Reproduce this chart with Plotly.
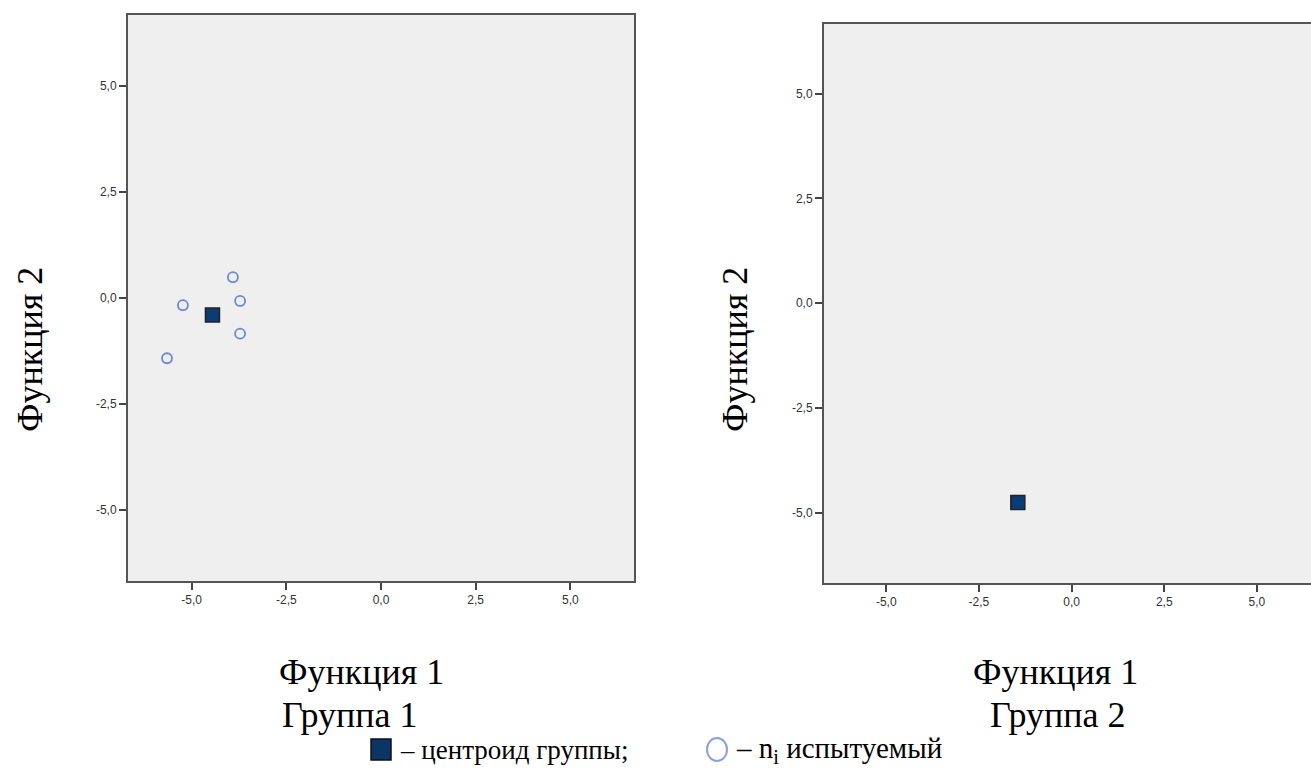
import plotly.graph_objects as go

# ---- data ----
g1_subj_x = [-3.91, -3.72, -5.23, -3.72, -5.65]
g1_subj_y = [0.49, -0.07, -0.17, -0.84, -1.42]
g1_centroid_x = [-4.45]
g1_centroid_y = [-0.40]
g2_centroid_x = [-1.45]
g2_centroid_y = [-4.75]
tick_vals = [-5.0, -2.5, 0.0, 2.5, 5.0]
tick_text = ["-5,0", "-2,5", "0,0", "2,5", "5,0"]

W, H = 1311, 769
def px(x): return x / W
def py(y): return 1 - y / H

navy = "#0b3c74"
circ = "#6f86d6"
bg = "#efefef"
line_col = "#555555"
serif = "Liberation Serif, Times New Roman, serif"

fig = go.Figure()
fig.add_trace(go.Scatter(x=g1_subj_x, y=g1_subj_y, mode="markers", xaxis="x", yaxis="y",
                         marker=dict(symbol="circle-open", size=10, color=circ, line=dict(width=1.8, color=circ)),
                         showlegend=False))
fig.add_trace(go.Scatter(x=g1_centroid_x, y=g1_centroid_y, mode="markers", xaxis="x", yaxis="y",
                         marker=dict(symbol="square", size=14, color=navy, line=dict(width=1.5, color="#222222")),
                         showlegend=False))
fig.add_trace(go.Scatter(x=g2_centroid_x, y=g2_centroid_y, mode="markers", xaxis="x2", yaxis="y2",
                         marker=dict(symbol="square", size=14, color=navy, line=dict(width=1.5, color="#222222")),
                         showlegend=False))

tickfont = dict(family="Liberation Sans Narrow, Liberation Sans, Arial, sans-serif", size=12, color="#333333")
common = dict(tickmode="array", tickvals=tick_vals, ticktext=tick_text, showgrid=False, zeroline=False,
              ticks="outside", ticklen=7, tickwidth=2, tickcolor="#444444", showline=True,
              linecolor=line_col, linewidth=2, tickfont=tickfont)

fig.update_layout(
    width=W, height=H, margin=dict(l=0, r=0, t=0, b=0),
    paper_bgcolor="white", plot_bgcolor=bg,
    xaxis=dict(domain=[px(128), px(634)], range=[-6.68, 6.68], anchor="y", mirror=True, **common),
    yaxis=dict(domain=[py(581), py(15)], range=[-6.67, 6.67], anchor="x", mirror=True, **common),
    xaxis2=dict(domain=[px(824), 1.0], range=[-6.68, 6.46], anchor="y2", mirror=True, **common),
    yaxis2=dict(domain=[py(583), py(23.5)], range=[-6.67, 6.67], anchor="x2", mirror=False, **common),
)

tfont = dict(family=serif, size=36, color="black")
ann = [
    dict(text="Функция 2", x=px(30), y=py(350), textangle=-90, font=tfont),
    dict(text="Функция 2", x=px(735), y=py(350), textangle=-90, font=tfont),
    dict(text="Функция 1", x=px(361), y=py(672), font=tfont),
    dict(text="Группа 1", x=px(350), y=py(715), font=tfont),
    dict(text="Функция 1", x=px(1055), y=py(672), font=tfont),
    dict(text="Группа 2", x=px(1058), y=py(715), font=tfont),
]
for a in ann:
    fig.add_annotation(xref="paper", yref="paper", showarrow=False, xanchor="center", yanchor="middle", **a)

lfont = dict(family=serif, size=27, color="black")
fig.add_annotation(xref="paper", yref="paper", showarrow=False, xanchor="left", yanchor="middle",
                   x=px(398), y=py(750), text="– центроид группы;", font=lfont)
fig.add_annotation(xref="paper", yref="paper", showarrow=False, xanchor="left", yanchor="middle",
                   x=px(734), y=py(750), text="– n<sub>i</sub> испытуемый", font=dict(family=serif, size=29, color="black"))
fig.add_shape(type="rect", xref="paper", yref="paper", x0=px(371), x1=px(391), y0=py(760), y1=py(739),
              fillcolor="#0a3566", line=dict(color="#111111", width=1.5))
fig.add_shape(type="circle", xref="paper", yref="paper", x0=px(707), x1=px(727), y0=py(761), y1=py(738),
              fillcolor="white", line=dict(color="#8a9ee8", width=2))

fig.write_html("out.html", config={"displayModeBar": False},
               post_script="document.body.style.margin='0';document.body.style.overflow='hidden';")
